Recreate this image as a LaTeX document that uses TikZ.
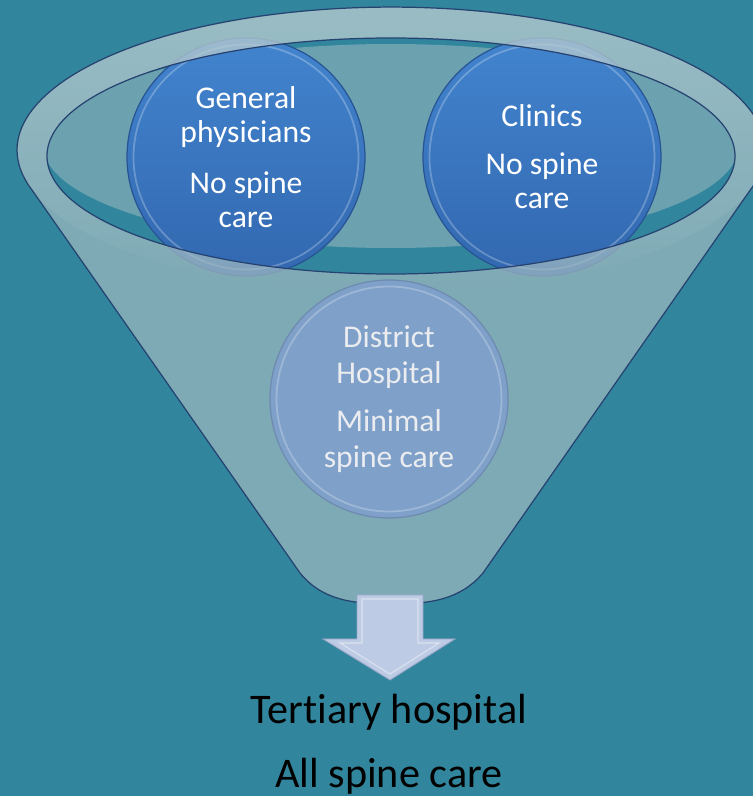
\documentclass[tikz,border=0pt]{standalone}
\usepackage{fontspec}
\setmainfont{Carlito}[Ligatures=NoCommon]
\usetikzlibrary{fadings}
\definecolor{slidebg}{RGB}{49,133,156}
\definecolor{funnelfront}{RGB}{160,186,192}
\definecolor{funnelback}{RGB}{108,162,176}
\definecolor{funneledge}{RGB}{38,66,112}
\definecolor{deepblue}{RGB}{66,132,206}
\definecolor{deepblue2}{RGB}{50,104,176}
\definecolor{ringblue}{RGB}{40,84,148}
\definecolor{paleblue}{RGB}{126,160,201}
\definecolor{paleedge}{RGB}{110,138,176}
\definecolor{paletext}{RGB}{234,236,240}
\definecolor{arrowfill}{RGB}{190,203,228}
\definecolor{arrowedge}{RGB}{150,165,198}

\tikzset{
  bubble/.style={circle, minimum size=4.76cm, inner sep=0pt, align=center,
    font=\fontsize{18}{19.3}\selectfont},
  darkbubble/.style={bubble, draw=ringblue, line width=0.7pt,
    top color=deepblue, bottom color=deepblue2, text=white,
    path picture={\draw[white, opacity=0.25, line width=1pt]
      (path picture bounding box.center) circle (2.25cm);}},
  palebubble/.style={bubble, draw=paleedge, line width=0.7pt,
    fill=paleblue, text=paletext, font=\fontsize{18}{20.4}\selectfont,
    path picture={\draw[white, opacity=0.25, line width=1pt]
      (path picture bounding box.center) circle (2.25cm);}},
}

\begin{document}
\begin{tikzpicture}

  \useasboundingbox (0,0) rectangle (15.06,15.92);
  \clip (0,0) rectangle (15.06,15.92);
  \fill[slidebg] (0,0) rectangle (15.06,15.92);

  % ---- inside of the funnel mouth ----
  \begin{scope}
    \clip (7.82,12.80) ellipse [x radius=6.88, y radius=2.36];
    \fill[funnelback] (7.82,13.00) ellipse [x radius=6.95, y radius=2.04];
  \end{scope}

  % ---- top level: sits in the mouth ----
  \node[darkbubble] (gp) at (4.92,12.78)
    {General\\physicians\\[9.6pt]No spine\\care};
  \node[darkbubble] (clinics) at (10.84,12.78)
    {Clinics\\[8pt]No spine\\care};

  % ---- funnel body (semi-transparent, hole for the mouth) ----
  \path[fill=funnelfront, fill opacity=0.7, even odd rule]
    (0.64,12.12) arc[start angle=196.2, end angle=-16.2, x radius=7.48, y radius=2.86]
    -- (9.66,4.46) .. controls (9.2,3.92) and (8.6,3.84) .. (7.82,3.84)
    .. controls (7.04,3.84) and (6.44,3.92) .. (6.00,4.46) -- cycle
    (7.82,12.80) ellipse [x radius=6.88, y radius=2.36];
  \fill[white, fill opacity=0.22, path fading=south, even odd rule]
    (7.82,12.92) ellipse [x radius=7.48, y radius=2.86]
    (7.82,12.80) ellipse [x radius=6.88, y radius=2.36];
  \draw[funneledge, line width=0.7pt]
    (0.64,12.12) arc[start angle=196.2, end angle=-16.2, x radius=7.48, y radius=2.86]
    -- (9.66,4.46) .. controls (9.2,3.92) and (8.6,3.84) .. (7.82,3.84)
    .. controls (7.04,3.84) and (6.44,3.92) .. (6.00,4.46) -- cycle;
  \draw[funneledge, line width=0.7pt]
    (7.82,12.80) ellipse [x radius=6.88, y radius=2.36];

  % ---- middle level ----
  \node[palebubble] (district) at (7.78,7.94)
    {District\\Hospital\\[6.8pt]Minimal\\spine care};

  % ---- block arrow out of the spout ----
  \filldraw[fill=arrowfill, draw=arrowedge, line width=0.5pt]
    (7.14,4.02) -- (8.46,4.02) -- (8.46,3.14) -- (9.10,3.14) -- (7.80,2.32)
    -- (6.46,3.14) -- (7.14,3.14) -- cycle;
  \draw[white, opacity=0.45, line width=0.6pt]
    (7.24,3.94) -- (8.36,3.94) -- (8.36,3.06) -- (8.78,3.06) -- (7.80,2.44)
    -- (6.80,3.06) -- (7.24,3.06) -- cycle;

  % ---- bottom level ----
  \node[anchor=base, font=\fontsize{24}{28}\selectfont] (tertiary) at (7.78,1.46)
    {Tertiary hospital};
  \node[anchor=base, font=\fontsize{24}{28}\selectfont] (allcare) at (7.78,0.18)
    {All spine care};

\end{tikzpicture}
\end{document}
